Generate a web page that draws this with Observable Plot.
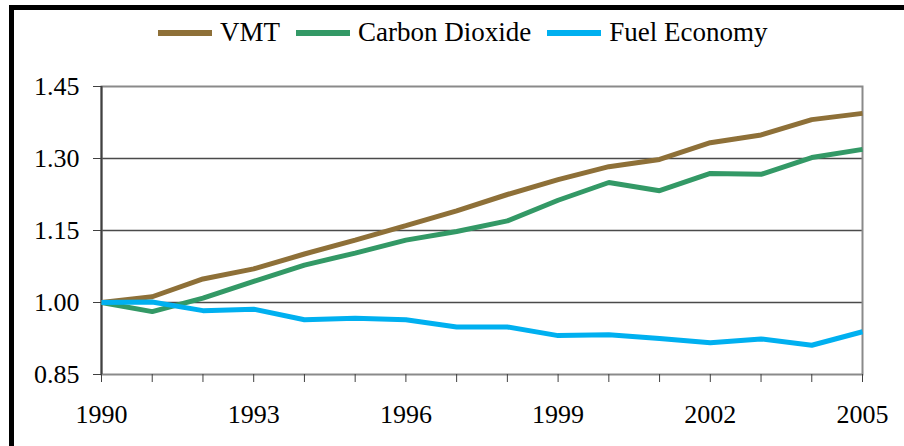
<!DOCTYPE html>
<html>
<head>
<meta charset="utf-8">
<script src="https://cdn.jsdelivr.net/npm/d3@7"></script>
<script src="https://cdn.jsdelivr.net/npm/@observablehq/plot@0.6"></script>
<style>
  html, body { margin: 0; padding: 0; background: #fff; }
  body { width: 904px; height: 446px; position: relative; overflow: hidden; }
  #legend { position: absolute; left: 158px; top: 17px; display: flex; align-items: center; color: #000; white-space: nowrap; }
  .item { display: flex; align-items: center; margin-right: 16px; }
  .sw { width: 54px; height: 6px; margin-right: 8px; }
  #chart { position: absolute; left: 0; top: 60px; }
  .bl { position: absolute; left: 9px; top: 5px; width: 5px; height: 441px; background: #000; z-index: 5; }
  .bt { position: absolute; left: 9px; top: 5px; width: 895px; height: 5px; background: #000; z-index: 5; }
</style>
</head>
<body>
<div class="bl"></div><div class="bt"></div>
<div id="legend" style="font-family:'Liberation Serif';font-size:27px"></div>
<div id="chart"></div>
<script>
const years = [1990,1991,1992,1993,1994,1995,1996,1997,1998,1999,2000,2001,2002,2003,2004,2005];
const vmt = [1.000,1.012,1.049,1.070,1.101,1.130,1.160,1.191,1.225,1.256,1.283,1.298,1.333,1.349,1.381,1.394];
const carbonDioxide = [1.000,0.981,1.009,1.044,1.078,1.103,1.130,1.148,1.170,1.213,1.250,1.233,1.269,1.267,1.302,1.319];
const fuelEconomy = [1.000,1.001,0.983,0.986,0.964,0.967,0.964,0.949,0.949,0.931,0.933,0.925,0.916,0.924,0.911,0.939];
const seriesNames = ["VMT", "Carbon Dioxide", "Fuel Economy"];
const seriesColors = ["#8E7038", "#339966", "#00B0F0"];
const yTicks = [0.85, 1.00, 1.15, 1.30, 1.45];
const xLabelYears = [1990, 1993, 1996, 1999, 2002, 2005];

const seriesValues = [vmt, carbonDioxide, fuelEconomy];
const data = [];
seriesNames.forEach((name, i) => {
  years.forEach((y, j) => data.push({series: name, year: y, value: seriesValues[i][j]}));
});

// legend
const legend = document.getElementById("legend");
legend.innerHTML = seriesNames.map((name, i) =>
  `<div class="item"><div class="sw" style="background:${seriesColors[i]}"></div><span style="font-family:'Liberation Serif'">${name}</span></div>`
).join("");

const chart = Plot.plot({
  width: 904,
  height: 386,
  marginLeft: 101,
  marginRight: 42,
  marginTop: 26,
  marginBottom: 72,
  style: {fontFamily: "Liberation Serif", fontSize: "26px", color: "#000", background: "transparent", overflow: "visible"},
  x: {domain: [1990, 2005]},
  y: {domain: [0.85, 1.45]},
  color: {domain: seriesNames, range: seriesColors},
  marks: [
    Plot.ruleY(yTicks.slice(1, -1), {stroke: "#4a4a4a", strokeWidth: 1.5}),
    Plot.frame({stroke: "#8a8a8a", strokeWidth: 2}),
    Plot.ruleX([1990], {stroke: "#404040", strokeWidth: 2}),
    Plot.axisY({ticks: yTicks, tickSize: 8, tickPadding: 14, tickFormat: d => d.toFixed(2), label: null, stroke: "#404040", fill: "#000", fontSize: 26}),
    Plot.axisX({ticks: years, tickSize: 8, tickPadding: 22, tickFormat: d => xLabelYears.includes(d) ? String(d) : "", label: null, stroke: "#404040", fill: "#000", fontSize: 26}),
    Plot.line(data, {x: "year", y: "value", z: "series", stroke: "series", strokeWidth: 5, strokeLinejoin: "miter", strokeLinecap: "butt"})
  ]
});
document.getElementById("chart").appendChild(chart);
</script>
</body>
</html>
